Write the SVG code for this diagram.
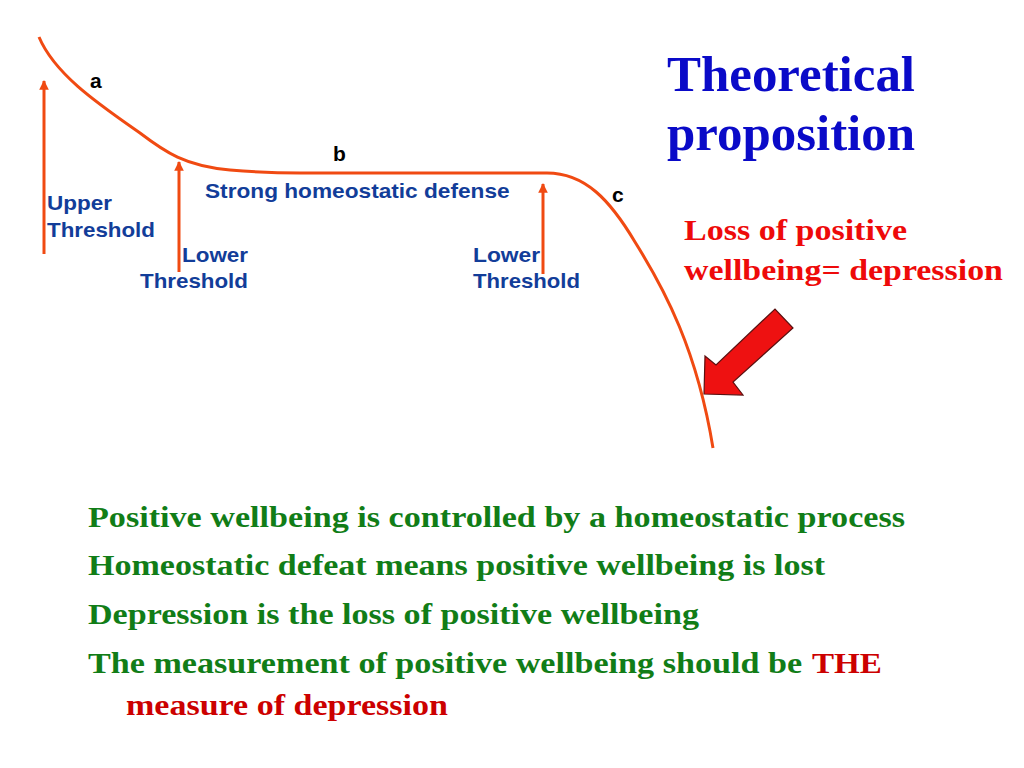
<svg xmlns="http://www.w3.org/2000/svg" width="1024" height="768" viewBox="0 0 1024 768">
<defs>
<style>
.curve{fill:none;stroke:#f04a12;stroke-width:3}
.conn{stroke:#f04a12;stroke-width:3}
.lbl{font-family:"Liberation Sans",Arial,sans-serif;font-weight:bold;font-size:20px;fill:#123d99}
.ltr{font-family:"Liberation Sans",Arial,sans-serif;font-weight:bold;font-size:21px;fill:#000}
.title{font-family:"Liberation Serif","Times New Roman",serif;font-weight:bold;font-size:51px;fill:#0a0ac8}
.red{font-family:"Liberation Serif","Times New Roman",serif;font-weight:bold;font-size:30px;fill:#ee0a0a}
.green{font-family:"Liberation Serif","Times New Roman",serif;font-weight:bold;font-size:30px;fill:#117d17}
.dred{fill:#cc0000}
</style>
<marker id="ah" viewBox="0 0 10 10" refX="9" refY="5" markerWidth="3.2" markerHeight="3.2" orient="auto">
<path d="M0,0 L10,5 L0,10 z" fill="#f04a12"/>
</marker>
</defs>
<rect width="1024" height="768" fill="#fff"/>
<g id="curve">
<path class="curve" d="M39,37 C55,75 100,105 140,133 C165,152 185,166 230,170 C255,172 280,173 300,173 L547,173 C585,173 610,200 635,242 C665,290 697,350 713,448"/>
</g>
<g id="connectors">
<line class="conn" x1="44" y1="254" x2="44" y2="81" marker-end="url(#ah)"/>
<line class="conn" x1="179" y1="272" x2="179" y2="162" marker-end="url(#ah)"/>
<line class="conn" x1="543" y1="274" x2="543" y2="184" marker-end="url(#ah)"/>
</g>
<g id="point-labels">
<text class="ltr" x="90" y="88">a</text>
<text class="ltr" x="333" y="161">b</text>
<text class="ltr" x="612" y="202">c</text>
</g>
<g id="upper-threshold">
<text class="lbl" transform="translate(47,210) scale(1.12,1)" textLength="58" lengthAdjust="spacingAndGlyphs">Upper</text>
<text class="lbl" transform="translate(47,237) scale(1.12,1)" textLength="96.4" lengthAdjust="spacingAndGlyphs">Threshold</text>
</g>
<g id="lower-threshold-1">
<text class="lbl" transform="translate(182,262) scale(1.12,1)" textLength="59" lengthAdjust="spacingAndGlyphs">Lower</text>
<text class="lbl" transform="translate(140,288) scale(1.12,1)" textLength="96.4" lengthAdjust="spacingAndGlyphs">Threshold</text>
</g>
<g id="strong-defense">
<text class="lbl" transform="translate(205,198) scale(1.12,1)" textLength="272" lengthAdjust="spacingAndGlyphs">Strong homeostatic defense</text>
</g>
<g id="lower-threshold-2">
<text class="lbl" transform="translate(473,262) scale(1.12,1)" textLength="60" lengthAdjust="spacingAndGlyphs">Lower</text>
<text class="lbl" transform="translate(473,288) scale(1.12,1)" textLength="95.5" lengthAdjust="spacingAndGlyphs">Threshold</text>
</g>
<g id="title">
<text class="title" x="667" y="91" textLength="248" lengthAdjust="spacingAndGlyphs">Theoretical</text>
<text class="title" x="667" y="150" textLength="248" lengthAdjust="spacingAndGlyphs">proposition</text>
</g>
<g id="loss-label">
<text class="red" transform="translate(684,240) scale(1.17,1)" textLength="190.6" lengthAdjust="spacingAndGlyphs">Loss of positive</text>
<text class="red" transform="translate(684,280) scale(1.17,1)" textLength="272.6" lengthAdjust="spacingAndGlyphs">wellbeing= depression</text>
</g>
<g id="block-arrow">
<polygon points="704,394 705,356 716,365 775,309 793,328 733,382 743,395" fill="#ee1111" stroke="#5a1010" stroke-width="1.2" stroke-linejoin="miter"/>
</g>
<g id="statements">
<text class="green" transform="translate(88,527) scale(1.17,1)" textLength="698.3" lengthAdjust="spacingAndGlyphs">Positive wellbeing is controlled by a homeostatic process</text>
<text class="green" transform="translate(88,575) scale(1.17,1)" textLength="629.9" lengthAdjust="spacingAndGlyphs">Homeostatic defeat means positive wellbeing is lost</text>
<text class="green" transform="translate(88,624) scale(1.17,1)" textLength="522.2" lengthAdjust="spacingAndGlyphs">Depression is the loss of positive wellbeing</text>
<text class="green" transform="translate(88,673) scale(1.13,1)" textLength="631.9" lengthAdjust="spacingAndGlyphs">The measurement of positive wellbeing should be</text>
<text class="green dred" transform="translate(812,673) scale(1.13,1)" textLength="61.9" lengthAdjust="spacingAndGlyphs">THE</text>
<text class="green dred" transform="translate(126,715) scale(1.17,1)" textLength="275.2" lengthAdjust="spacingAndGlyphs">measure of depression</text>
</g>
</svg>
